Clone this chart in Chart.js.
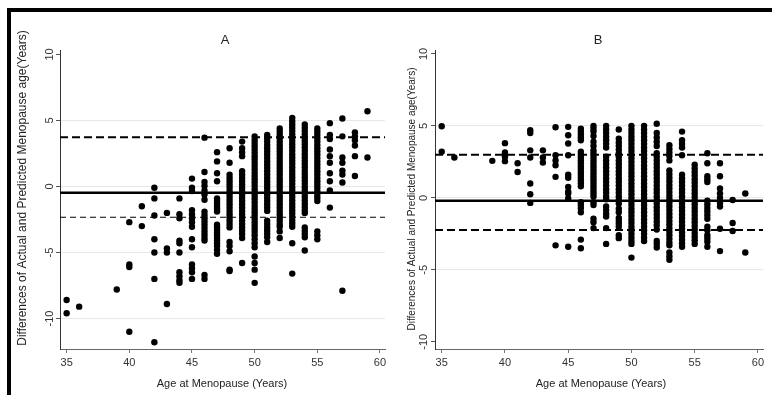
<!DOCTYPE html>
<html>
<head>
<meta charset="utf-8">
<script src="https://cdn.jsdelivr.net/npm/chart.js@4"></script>
<style>
  body { margin: 0; background: #fff; width: 772px; height: 395px; overflow: hidden; position: relative; }
  canvas { position: absolute; top: 0; }
  #frame { position: absolute; left: 7px; top: 8px; width: 780px; height: 400px; border-left: 4px solid #000; border-top: 4px solid #000; }
</style>
</head>
<body>
<div id="frame"></div>
<canvas id="chartA" width="390" height="395" style="left:0"></canvas>
<canvas id="chartB" width="382" height="395" style="left:390px"></canvas>
<script>
// Panel A: age at menopause and differences (actual - predicted)
const agesA = [35, 36, 39, 40, 41, 42, 43, 44, 45, 46, 47, 48, 49, 50, 51, 52, 53, 54, 55, 56, 57, 58, 59];
const diffsA = [
  [-8.6, -9.6],
  [-9.1],
  [-7.8],
  [-2.7, -5.9, -6.1, -11.0],
  [-1.5, -3.0],
  [-0.1, -0.9, -2.2, -4.0, -5.0, -7.0, -11.8],
  [-2.0, -4.7, -5.0, -8.9],
  [-0.9, -2.1, -2.4, -4.1, -4.3, -5.0, -6.5, -6.8, -7.1, -7.3],
  [0.6, -0.1, -0.35, -1.8, -2.1, -2.4, -2.7, -3.05, -4.0, -4.6, -5.9, -6.2, -6.5, -7.0],
  [3.7, 1.1, 0.35, 0.05, -0.3, -0.6, -1.0, -1.9, -2.15, -2.4, -2.65, -2.9, -3.15, -3.4, -3.65, -3.9, -4.1, -6.7, -7.0],
  [2.6, 1.9, 1.0, 0.4, -0.9, -1.1, -1.3, -1.5, -1.7, -1.9, -2.9, -3.1, -3.3, -3.5, -3.7, -3.9, -4.1, -4.3, -4.5, -4.8, -5.1],
  [2.9, 1.8, 0.9, 0.65, 0.4, 0.15, -0.1, -0.35, -0.6, -0.85, -1.1, -1.35, -1.6, -1.85, -2.1, -2.35, -2.6, -2.85, -3.1, -4.2, -4.5, -4.9, -6.3, -6.4],
  [3.4, 2.9, 2.6, 2.3, 1.15, 0.9, 0.65, 0.4, 0.15, -0.1, -0.35, -0.6, -0.85, -1.1, -1.35, -1.6, -1.85, -2.1, -2.35, -2.6, -2.85, -3.1, -3.35, -3.6, -3.9, -5.8],
  [3.8, 3.55, 3.3, 3.05, 2.8, 2.55, 2.3, 2.05, 1.8, 1.55, 1.3, 1.05, 0.8, 0.55, 0.3, 0.05, -0.2, -0.45, -0.7, -0.95, -1.2, -1.45, -1.7, -1.95, -2.2, -2.45, -2.7, -2.95, -3.2, -3.45, -3.7, -4.0, -4.3, -4.6, -5.3, -5.8, -6.3, -7.3],
  [3.9, 3.65, 3.4, 3.15, 2.9, 2.65, 2.4, 2.15, 1.9, 1.65, 1.4, 1.15, 0.9, 0.65, 0.4, 0.15, -0.1, -0.35, -0.6, -0.85, -1.1, -1.35, -1.6, -1.85, -2.6, -2.85, -3.1, -3.35, -3.6, -3.85, -4.2],
  [4.4, 4.15, 3.9, 3.65, 3.4, 3.15, 2.9, 2.65, 2.4, 2.15, 1.9, 1.65, 1.4, 1.15, 0.9, 0.65, 0.4, 0.15, -0.1, -0.35, -0.6, -0.85, -1.1, -1.35, -1.6, -1.85, -2.1, -2.35, -2.6, -2.85, -3.05, -3.4, -3.9],
  [5.2, 4.95, 4.7, 4.45, 4.2, 3.95, 3.7, 3.45, 3.2, 2.95, 2.7, 2.45, 2.2, 1.95, 1.7, 1.45, 1.2, 0.95, 0.7, 0.45, 0.2, -0.05, -0.3, -0.55, -0.8, -1.05, -1.3, -1.55, -1.8, -2.05, -2.3, -2.55, -2.8, -3.05, -4.3, -6.6],
  [4.7, 4.45, 4.2, 3.95, 3.7, 3.45, 3.2, 2.95, 2.7, 2.45, 2.2, 1.95, 1.7, 1.45, 1.2, 0.95, 0.7, 0.45, 0.2, -0.05, -0.3, -0.55, -0.8, -1.05, -1.3, -1.55, -1.8, -2.0, -3.1, -3.35, -3.6, -3.85, -4.85],
  [4.4, 4.15, 3.9, 3.65, 3.4, 3.15, 2.9, 2.65, 2.4, 2.15, 1.9, 1.65, 1.4, 1.15, 0.9, 0.65, 0.4, 0.15, -0.1, -0.35, -0.6, -0.85, -1.1, -3.4, -3.7, -4.0],
  [4.8, 3.9, 3.6, 2.8, 2.3, 1.8, 1.0, 0.4, -0.3, -1.6],
  [5.15, 3.8, 2.2, 1.8, 1.2, 0.9, 0.3, -7.9],
  [4.1, 3.8, 3.5, 3.1, 2.3, 0.8],
  [5.7, 2.2]
];
const linesA = { upper: 3.73, mean: -0.47, lower: -2.33 };

// Panel B
const agesB = [35, 36, 39, 40, 41, 42, 43, 44, 45, 46, 47, 48, 49, 50, 51, 52, 53, 54, 55, 56, 57, 58, 59];
const diffsB = [
  [4.97, 3.2],
  [2.8],
  [2.57],
  [3.8, 3.15, 2.85, 2.55],
  [2.4, 1.8],
  [4.7, 4.5, 3.3, 2.8, 1.0, 0.25, -0.35],
  [3.3, 2.8, 2.45],
  [4.9, 2.96, 2.6, 2.26, 1.46, -3.3],
  [4.93, 4.35, 3.77, 2.96, 1.6, 1.4, 0.76, 0.42, 0.3, -0.05, -3.4],
  [4.8, 4.6, 4.4, 4.2, 4.0, 3.2, 3.0, 2.8, 2.6, 2.4, 2.2, 2.0, 1.8, 1.6, 1.4, 1.2, 1.0, 0.8, -0.3, -0.5, -0.7, -1.0, -2.9, -3.5],
  [5.0, 4.8, 4.6, 4.3, 3.9, 3.6, 3.3, 3.1, 2.9, 2.7, 2.5, 2.3, 2.1, 1.9, 1.7, 1.5, 1.3, 1.1, 0.9, 0.7, 0.5, 0.3, 0.1, -0.3, -0.5, -1.45, -1.7, -2.1],
  [5.0, 4.75, 4.5, 4.25, 4.0, 3.75, 3.5, 2.85, 2.6, 2.35, 2.1, 1.85, 1.6, 1.35, 1.1, 0.85, 0.6, 0.35, 0.1, -0.1, -0.6, -0.85, -1.1, -1.3, -2.1, -3.2],
  [4.75, 4.1, 3.85, 3.6, 3.35, 3.1, 2.85, 2.6, 2.35, 2.1, 1.85, 1.6, 1.35, 1.1, 0.85, 0.6, 0.35, 0.1, -0.15, -0.4, -0.75, -1.0, -1.4, -1.6, -1.8, -2.0, -2.6, -2.8],
  [5.0, 4.75, 4.5, 4.25, 4.0, 3.75, 3.5, 3.25, 3.0, 2.75, 2.5, 2.25, 2.0, 1.75, 1.5, 1.25, 1.0, 0.75, 0.5, 0.25, 0.0, -0.25, -0.5, -0.75, -1.0, -1.25, -1.5, -1.75, -2.0, -2.25, -2.5, -2.75, -3.0, -3.2, -4.15],
  [5.0, 4.75, 4.5, 4.25, 4.0, 3.75, 3.5, 3.25, 3.0, 2.75, 2.5, 2.25, 2.0, 1.75, 1.5, 1.25, 1.0, 0.75, 0.5, 0.25, 0.0, -0.25, -0.5, -0.75, -1.0, -1.25, -1.5, -1.75, -2.0, -2.25, -2.5, -2.75, -3.0],
  [5.15, 4.5, 4.2, 3.9, 3.6, 3.1, 2.85, 2.6, 2.35, 2.1, 1.85, 1.6, 1.35, 1.1, 0.85, 0.6, 0.35, 0.1, -0.15, -0.4, -0.65, -0.9, -1.15, -1.4, -1.65, -1.9, -2.2, -3.0, -3.2, -3.45],
  [3.65, 3.4, 3.15, 2.9, 2.6, 1.9, 1.65, 1.4, 1.15, 0.9, 0.65, 0.4, 0.15, -0.1, -0.35, -0.6, -0.85, -1.1, -1.35, -1.6, -1.85, -2.1, -2.35, -2.6, -2.85, -3.1, -3.3, -3.8, -4.05, -4.3],
  [4.6, 4.0, 3.75, 3.5, 2.96, 1.6, 1.35, 1.1, 0.85, 0.6, 0.35, 0.1, -0.15, -0.4, -0.65, -0.9, -1.15, -1.4, -1.65, -1.9, -2.15, -2.4, -2.65, -2.9, -3.15, -3.4],
  [2.3, 2.05, 1.8, 1.55, 1.3, 1.05, 0.8, 0.55, 0.3, 0.05, -0.2, -0.45, -0.7, -0.95, -1.2, -1.45, -1.7, -1.95, -2.2, -2.45, -2.7, -2.95, -3.2],
  [3.1, 2.4, 1.5, 1.3, 1.1, -0.2, -0.45, -0.7, -0.95, -1.2, -1.45, -2.0, -2.25, -2.6, -2.8, -3.05, -3.4],
  [2.4, 1.5, 0.65, 0.3, 0.0, -0.35, -0.6, -2.15, -3.7],
  [-0.15, -1.75, -2.3],
  [0.3, -3.8]
];
const linesB = { upper: 3.0, mean: -0.2, lower: -2.23 };

const xTicks = [35, 40, 45, 50, 55, 60];
const yTicks = [-10, -5, 0, 5, 10];
const xTitle = 'Age at Menopause (Years)';
const yTitle = 'Differences of Actual and Predicted Menopause age(Years)';

const xMin = 34.47, xMax = 60.4;

function toPoints(ages, diffs) {
  return ages.flatMap((a, i) => diffs[i].map(v => ({ x: a, y: v })));
}

function hLine(v, width, dash) {
  return {
    type: 'line',
    data: [{ x: xMin, y: v }, { x: xMax, y: v }],
    borderColor: '#000',
    borderWidth: width,
    borderDash: dash,
    pointRadius: 0,
    showLine: true,
    order: 0
  };
}

// titles, rotated y tick labels and axis titles, Stata style
const panelText = {
  id: 'panelText',
  afterDraw(chart, args, o) {
    const ctx = chart.ctx, area = chart.chartArea, ys = chart.scales.y;
    ctx.save();
    ctx.fillStyle = '#222';
    ctx.textAlign = 'center';
    ctx.textBaseline = 'middle';
    ctx.font = '13px Arial';
    ctx.fillText(o.title, o.titleX, 40);
    ctx.font = '11px Arial';
    ctx.fillText(xTitle, o.xTitleX, 384);
    ctx.fillStyle = '#333';
    ys.ticks.forEach(t => {
      const y = ys.getPixelForValue(t.value);
      ctx.save();
      ctx.translate(o.tickX, y);
      ctx.rotate(-Math.PI / 2);
      ctx.fillText(String(t.value), 0, 0);
      ctx.restore();
    });
    ctx.fillStyle = '#222';
    ctx.translate(o.yTitleX, o.yTitleY);
    ctx.rotate(-Math.PI / 2);
    ctx.font = o.yTitleFont;
    ctx.fillText(yTitle, 0, 0);
    ctx.restore();
  }
};

function makeChart(id, ages, diffs, lines, cfg) {
  const ctx = document.getElementById(id).getContext('2d');
  return new Chart(ctx, {
    type: 'scatter',
    data: {
      datasets: [
        hLine(lines.upper, 2, [8, 4]),
        hLine(lines.mean, 2.5, []),
        hLine(lines.lower, cfg.lowerWidth, cfg.lowerDash),
        {
          data: toPoints(ages, diffs),
          backgroundColor: '#000',
          borderWidth: 0,
          pointRadius: 3.2,
          order: 1
        }
      ]
    },
    options: {
      responsive: false,
      animation: false,
      layout: { padding: { left: 0, right: cfg.padRight, top: 50, bottom: 0 } },
      plugins: {
        legend: { display: false },
        tooltip: { enabled: false },
        panelText: cfg.text
      },
      scales: {
        x: {
          type: 'linear',
          min: xMin,
          max: xMax,
          afterBuildTicks: s => { s.ticks = xTicks.map(v => ({ value: v })); },
          afterFit: s => { s.height = 46; },
          ticks: { color: '#333', font: { family: 'Arial', size: 11 }, maxRotation: 0, autoSkip: false, padding: 3 },
          grid: { drawOnChartArea: false, drawTicks: true, tickLength: 4, tickColor: '#777' },
          border: { display: true, color: '#666', width: 1 }
        },
        y: {
          type: 'linear',
          min: cfg.yMin,
          max: cfg.yMax,
          afterBuildTicks: s => { s.ticks = yTicks.map(v => ({ value: v })); },
          afterFit: s => { s.width = cfg.yWidth; },
          ticks: { color: 'rgba(0,0,0,0)', font: { size: 11 } },
          grid: {
            color: c => cfg.gridAt.includes(c.tick && c.tick.value) ? '#e3e9ec' : 'rgba(0,0,0,0)',
            lineWidth: 1,
            drawTicks: true,
            tickLength: 4,
            tickColor: '#555'
          },
          border: { display: true, color: '#333', width: 1 }
        }
      }
    },
    plugins: [panelText]
  });
}

makeChart('chartA', agesA, diffsA, linesA, {
  yMin: -12.31, yMax: 10.34, yWidth: 60, padRight: 5,
  gridAt: [5, 0, -5, -10],
  lowerWidth: 1.2, lowerDash: [6, 4],
  text: { title: 'A', titleX: 225, xTitleX: 222, tickX: 50, yTitleX: 23, yTitleY: 188, yTitleFont: '12px Arial' }
});

makeChart('chartB', agesB, diffsB, linesB, {
  yMin: -10.5, yMax: 10.27, yWidth: 45, padRight: 9,
  gridAt: [5, 0, -5],
  lowerWidth: 2, lowerDash: [8, 4],
  text: { title: 'B', titleX: 208, xTitleX: 211, tickX: 34, yTitleX: 22, yTitleY: 199, yTitleFont: '10px Arial' }
});
</script>
</body>
</html>
